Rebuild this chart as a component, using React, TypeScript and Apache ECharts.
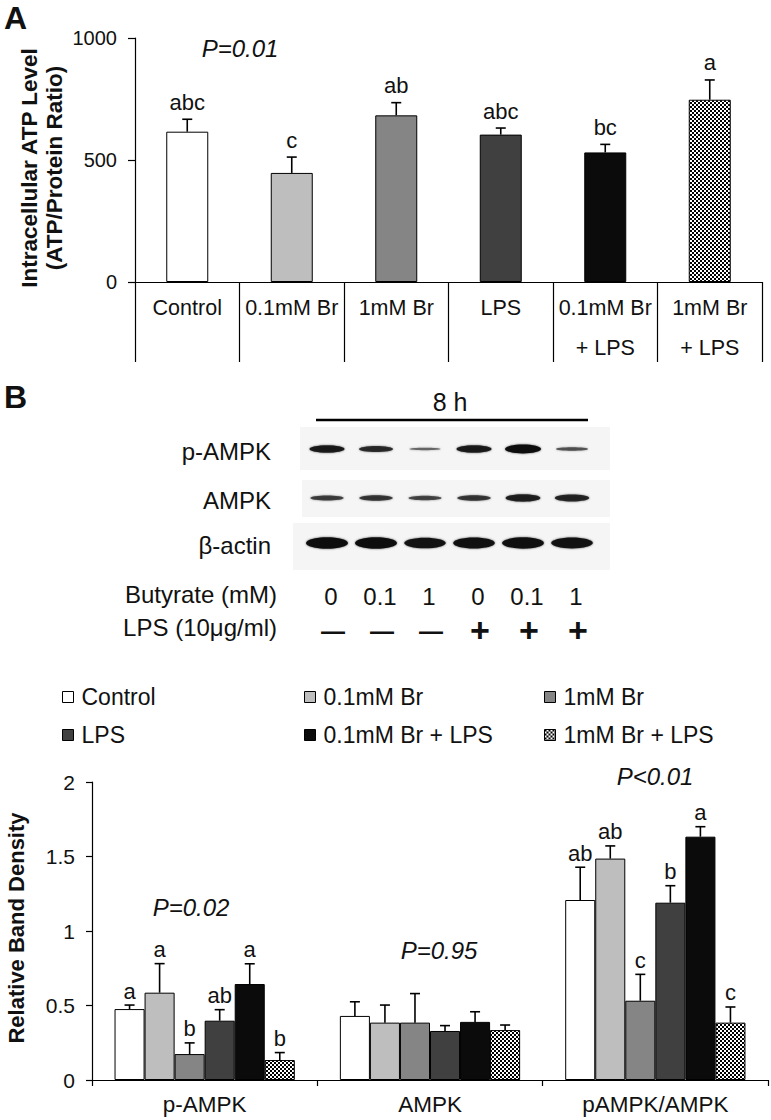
import React, { useEffect, useRef } from 'react';
import * as echarts from 'echarts';

const FONT = '"Liberation Sans", Arial, Helvetica, sans-serif';
const INK = '#111';

// ---------- Panel A data ----------
const atpCategories = ['Control', '0.1mM Br', '1mM Br', 'LPS', '0.1mM Br\n+ LPS', '1mM Br\n+ LPS'];
const atpValues = [616, 447, 683, 604, 531, 747];
const atpErrors = [51, 65, 52, 27, 33, 81];
const atpLetters = ['abc', 'c', 'ab', 'abc', 'bc', 'a'];
const atpTicks = { min: 0, max: 1000, interval: 500 };

// ---------- Panel B blot ----------
const blotRows = ['p-AMPK', 'AMPK', 'β-actin'];
const butyrateDoses = ['0', '0.1', '1', '0', '0.1', '1'];
const lpsSigns = ['—', '—', '—', '+', '+', '+'];
const pAmpkBand = [0.85, 0.7, 0.22, 0.85, 1.0, 0.4];
const ampkBand = [0.55, 0.6, 0.5, 0.6, 0.8, 0.75];
const actinBand = [1.0, 1.0, 0.92, 0.95, 0.97, 0.93];

// ---------- Panel B densitometry ----------
const densityGroups = ['p-AMPK', 'AMPK', 'pAMPK/AMPK'];
const treatments = ['Control', '0.1mM Br', '1mM Br', 'LPS', '0.1mM Br + LPS', '1mM Br + LPS'];
const controlVals = [0.476, 0.43, 1.208];
const br01Vals = [0.586, 0.385, 1.486];
const br1Vals = [0.174, 0.385, 0.532];
const lpsVals = [0.398, 0.329, 1.19];
const br01LpsVals = [0.644, 0.39, 1.633];
const br1LpsVals = [0.134, 0.335, 0.385];
const controlErr = [0.027, 0.095, 0.22];
const br01Err = [0.195, 0.118, 0.085];
const br1Err = [0.075, 0.195, 0.177];
const lpsErr = [0.074, 0.036, 0.114];
const br01LpsErr = [0.136, 0.068, 0.067];
const br1LpsErr = [0.05, 0.034, 0.105];
const controlLetters = ['a', '', 'ab'];
const br01Letters = ['a', '', 'ab'];
const br1Letters = ['b', '', 'c'];
const lpsLetters = ['ab', '', 'b'];
const br01LpsLetters = ['a', '', 'a'];
const br1LpsLetters = ['b', '', 'c'];
const densityTicks = { min: 0, max: 2, interval: 0.5 };

const allVals = [controlVals, br01Vals, br1Vals, lpsVals, br01LpsVals, br1LpsVals];
const allErrs = [controlErr, br01Err, br1Err, lpsErr, br01LpsErr, br1LpsErr];
const allLetters = [controlLetters, br01Letters, br1Letters, lpsLetters, br01LpsLetters, br1LpsLetters];

function checkerPattern() {
  const c = document.createElement('canvas');
  c.width = 4;
  c.height = 4;
  const ctx = c.getContext('2d');
  if (ctx) {
    ctx.fillStyle = '#ffffff';
    ctx.fillRect(0, 0, 4, 4);
    ctx.fillStyle = '#000000';
    ctx.fillRect(0, 0, 2, 2);
    ctx.fillRect(2, 2, 2, 2);
  }
  return { image: c.toDataURL(), repeat: 'repeat', imageWidth: 4, imageHeight: 4 } as any;
}

export default function App() {
  const ref = useRef<HTMLDivElement>(null);

  useEffect(() => {
    document.body.style.margin = '0';
    if (!ref.current) return;
    const chart = echarts.init(ref.current, undefined, { renderer: 'svg' });
    const checker = checkerPattern();
    const fills: any[] = ['#ffffff', '#bebebe', '#858585', '#404040', '#0b0b0b', checker];

    const t = (text: string, x: number, y: number, extra: any = {}, el: any = {}) => ({
      type: 'text',
      x,
      y,
      silent: true,
      ...el,
      style: {
        text,
        fill: INK,
        fontFamily: FONT,
        fontSize: 22,
        align: 'center',
        verticalAlign: 'middle',
        ...extra,
      },
    });

    const graphics: any[] = [];
    graphics.push(t('A', 4, 18, { fontSize: 32, fontWeight: 'bold', align: 'left' }));
    graphics.push(t('B', 4, 397, { fontSize: 32, fontWeight: 'bold', align: 'left' }));
    graphics.push(
      t('Intracellular ATP Level\n(ATP/Protein Ratio)', 42, 168, { fontSize: 22.5, fontWeight: 'bold', lineHeight: 25 }, { rotation: Math.PI / 2 })
    );
    graphics.push(t('Relative Band Density', 16, 928, { fontSize: 22, fontWeight: 'bold' }, { rotation: Math.PI / 2 }));
    graphics.push(t('P=0.01', 240, 48, { fontSize: 24, fontStyle: 'italic' }));
    graphics.push(t('P=0.02', 191, 907, { fontSize: 24, fontStyle: 'italic' }));
    graphics.push(t('P=0.95', 439, 950, { fontSize: 24, fontStyle: 'italic' }));
    graphics.push(t('P<0.01', 655, 776, { fontSize: 24, fontStyle: 'italic' }));

    // Blot
    const laneX = (i: number) => 327 + i * 49;
    graphics.push(t('8 h', 450, 402, { fontSize: 25 }));
    graphics.push({ type: 'line', silent: true, shape: { x1: 316, y1: 420, x2: 588, y2: 420 }, style: { stroke: '#000', lineWidth: 2.6 } });
    graphics.push({ type: 'rect', silent: true, shape: { x: 300, y: 427, width: 310, height: 43 }, style: { fill: '#f5f5f5' } });
    graphics.push({ type: 'rect', silent: true, shape: { x: 302, y: 480, width: 308, height: 37 }, style: { fill: '#f5f5f5' } });
    graphics.push({ type: 'rect', silent: true, shape: { x: 293, y: 523, width: 317, height: 47 }, style: { fill: '#f5f5f5' } });
    const rowY = [449, 498, 543];
    const rowBands = [pAmpkBand, ampkBand, actinBand];
    const rowMaxRy = [4.4, 4.6, 5.8];
    const rowRx = [18, 18, 21];
    blotRows.forEach((name, r) => {
      graphics.push(t(name, 271, rowY[r] + 2, { fontSize: 24, align: 'right' }));
      rowBands[r].forEach((v, i) => {
        graphics.push({
          type: 'ellipse',
          silent: true,
          shape: { cx: laneX(i), cy: rowY[r], rx: rowRx[r] - (1 - v) * 3, ry: Math.max(1.2, rowMaxRy[r] * v) },
          style: { fill: '#0c0c0c', opacity: 0.35 + 0.65 * v, shadowBlur: 2, shadowColor: 'rgba(0,0,0,0.6)' },
        });
      });
    });
    graphics.push(t('Butyrate (mM)', 277, 594, { fontSize: 24, align: 'right' }));
    graphics.push(t('LPS (10μg/ml)', 277, 627, { fontSize: 24, align: 'right' }));
    butyrateDoses.forEach((d, i) => {
      graphics.push(t(d, laneX(i) + 4, 596, { fontSize: 24 }));
    });
    lpsSigns.forEach((s, i) => {
      graphics.push(
        t(s, laneX(i) + 6, 630, s === '+' ? { fontSize: 34, fontWeight: 'bold' } : { fontSize: 24, fontWeight: 'bold' })
      );
    });

    const barSeries: any[] = treatments.map((name, s) => ({
      name,
      type: 'bar',
      xAxisIndex: 1,
      yAxisIndex: 1,
      barGap: '0%',
      barCategoryGap: '20%',
      data: allVals[s],
      itemStyle: { color: fills[s], borderColor: '#000', borderWidth: 1 },
    }));

    const errData: any[] = [];
    allVals.forEach((vals, s) => vals.forEach((v, g) => errData.push([g, s, v, allErrs[s][g]])));

    const option: any = {
      animation: false,
      backgroundColor: '#ffffff',
      textStyle: { fontFamily: FONT, color: INK },
      graphic: graphics,
      legend: [
        { data: ['Control', 'LPS'], left: 62, top: 684 },
        { data: ['0.1mM Br', '0.1mM Br + LPS'], left: 304, top: 684 },
        { data: ['1mM Br', '1mM Br + LPS'], left: 544, top: 684 },
      ].map((l) => ({
        ...l,
        orient: 'vertical',
        padding: 0,
        itemGap: 12,
        itemWidth: 11,
        itemHeight: 11,
        icon: 'rect',
        selectedMode: false,
        itemStyle: { borderColor: '#000', borderWidth: 1 },
        textStyle: { fontFamily: FONT, fontSize: 23, color: INK, lineHeight: 26, padding: [0, 0, 0, 3] },
      })),
      grid: [
        { left: 135, top: 38, width: 627, height: 244 },
        { left: 92, top: 782, width: 676, height: 298 },
      ],
      xAxis: [
        {
          type: 'category',
          gridIndex: 0,
          data: atpCategories,
          axisLine: { show: true, lineStyle: { color: '#000', width: 1.2 } },
          axisTick: { show: true, length: 80, interval: 0, alignWithLabel: false, lineStyle: { color: '#000', width: 1.2 } },
          axisLabel: { show: true, interval: 0, fontSize: 21.5, lineHeight: 40, margin: 6, color: INK, fontFamily: FONT },
        },
        {
          type: 'category',
          gridIndex: 1,
          data: densityGroups,
          axisLine: { show: true, lineStyle: { color: '#000', width: 1.2 } },
          axisTick: { show: true, length: 6, interval: 0, alignWithLabel: false, lineStyle: { color: '#000', width: 1.2 } },
          axisLabel: { show: true, interval: 0, fontSize: 22.5, margin: 13, color: INK, fontFamily: FONT },
        },
      ],
      yAxis: [
        {
          type: 'value',
          gridIndex: 0,
          ...atpTicks,
          axisLine: { show: true, lineStyle: { color: '#000', width: 1.2 } },
          axisTick: { show: true, length: 7, lineStyle: { color: '#000', width: 1.2 } },
          splitLine: { show: false },
          axisLabel: { fontSize: 20, margin: 18, color: INK, fontFamily: FONT, formatter: (v: number) => String(v) },
        },
        {
          type: 'value',
          gridIndex: 1,
          ...densityTicks,
          axisLine: { show: true, lineStyle: { color: '#000', width: 1.2 } },
          axisTick: { show: true, length: 6, lineStyle: { color: '#000', width: 1.2 } },
          splitLine: { show: false },
          axisLabel: { fontSize: 21, margin: 17, color: INK, fontFamily: FONT, formatter: (v: number) => String(v) },
        },
      ],
      series: [
        {
          name: 'ATP',
          type: 'bar',
          xAxisIndex: 0,
          yAxisIndex: 0,
          barWidth: 42,
          data: atpValues.map((v, i) => ({ value: v, itemStyle: { color: fills[i] } })),
          itemStyle: { borderColor: '#000', borderWidth: 1 },
        },
        {
          name: 'ATP error',
          type: 'custom',
          xAxisIndex: 0,
          yAxisIndex: 0,
          z: 5,
          encode: { x: 0, y: 1 },
          data: atpValues.map((v, i) => [i, v, atpErrors[i]]),
          renderItem: (params: any, api: any) => {
            const x = api.value(0);
            const v = api.value(1);
            const e = api.value(2);
            const base = api.coord([x, v]);
            const top = api.coord([x, v + e]);
            const ls = { stroke: '#000', lineWidth: 1.6 };
            return {
              type: 'group',
              children: [
                { type: 'line', shape: { x1: base[0], y1: base[1], x2: top[0], y2: top[1] }, style: ls },
                { type: 'line', shape: { x1: top[0] - 5, y1: top[1], x2: top[0] + 5, y2: top[1] }, style: ls },
                {
                  type: 'text',
                  x: top[0],
                  y: top[1] - 17,
                  style: { text: atpLetters[params.dataIndex], fill: INK, fontSize: 22, fontFamily: FONT, align: 'center', verticalAlign: 'middle' },
                },
              ],
            };
          },
        },
        ...barSeries,
        {
          name: 'Density error',
          type: 'custom',
          xAxisIndex: 1,
          yAxisIndex: 1,
          z: 5,
          encode: { x: 0, y: 2 },
          data: errData,
          renderItem: (params: any, api: any) => {
            const g = api.value(0);
            const s = api.value(1);
            const v = api.value(2);
            const e = api.value(3);
            const band = api.size([1, 0])[0];
            const bw = (band * 0.8) / treatments.length;
            const off = (s - (treatments.length - 1) / 2) * bw;
            const base = api.coord([g, v]);
            const top = api.coord([g, v + e]);
            const xx = base[0] + off;
            const ls = { stroke: '#000', lineWidth: 1.6 };
            const letter = allLetters[s][g];
            const children: any[] = [
              { type: 'line', shape: { x1: xx, y1: base[1], x2: xx, y2: top[1] }, style: ls },
              { type: 'line', shape: { x1: xx - 5, y1: top[1], x2: xx + 5, y2: top[1] }, style: ls },
            ];
            if (letter) {
              children.push({
                type: 'text',
                x: xx,
                y: top[1] - 14,
                style: { text: letter, fill: INK, fontSize: 22, fontFamily: FONT, align: 'center', verticalAlign: 'middle' },
              });
            }
            return { type: 'group', children };
          },
        },
      ],
    };
    chart.setOption(option);
    return () => chart.dispose();
  }, []);

  return <div ref={ref} style={{ position: 'absolute', left: 0, top: 0, width: 771, height: 1120 }} />;
}
